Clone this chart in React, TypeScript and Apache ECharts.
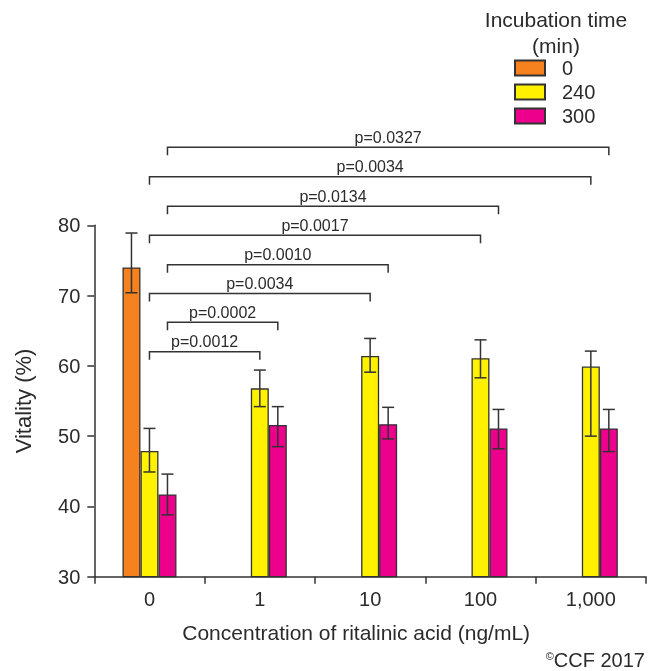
import React, { useEffect, useRef } from "react";
import * as echarts from "echarts";

const categories = ["0", "1", "10", "100", "1,000"];
const seriesNames = ["0", "240", "300"];
const vitality0 = [74.0, null, null, null, null];
const vitality240 = [47.9, 56.8, 61.4, 61.1, 59.9];
const vitality300 = [41.7, 51.6, 51.7, 51.1, 51.1];
const errLow0 = [70.4, null, null, null, null];
const errHigh0 = [78.9, null, null, null, null];
const errLow240 = [44.9, 54.2, 59.1, 58.3, 50.0];
const errHigh240 = [51.1, 59.4, 63.9, 63.7, 62.1];
const errLow300 = [38.8, 48.5, 49.6, 48.2, 47.8];
const errHigh300 = [44.6, 54.2, 54.1, 53.8, 53.8];

// significance brackets: from category, to category, series slot (1 = 240, 2 = 300), height, label
const bracketFrom = [0, 0, 0, 0, 0, 0, 0, 0];
const bracketTo = [1, 1, 2, 2, 3, 3, 4, 4];
const bracketSlot = [1, 2, 1, 2, 1, 2, 1, 2];
const bracketLevel = [62.0, 66.2, 70.3, 74.4, 78.6, 82.7, 86.9, 91.1];
const bracketP = ["p=0.0012", "p=0.0002", "p=0.0034", "p=0.0010", "p=0.0017", "p=0.0134", "p=0.0034", "p=0.0327"];

const yTicks = [30, 40, 50, 60, 70, 80];

const FONT = "'Liberation Sans', Arial, Helvetica, sans-serif";
const INK = "#2b2b2b";
const COLORS = ["#F5821F", "#FFF100", "#EC008C"];
const BAR_W = 18;
const CAP = 6;
const LEG = 8;

export default function App() {
  const ref = useRef<HTMLDivElement>(null);
  useEffect(() => {
    if (!ref.current) return;
    const chart = echarts.init(ref.current, null, { renderer: "svg" });
    const values = [vitality0, vitality240, vitality300];
    const lows = [errLow0, errLow240, errLow300];
    const highs = [errHigh0, errHigh240, errHigh300];

    const barSeries = seriesNames.map((name, i) => ({
      name,
      type: "bar",
      data: values[i],
      barWidth: BAR_W,
      barGap: "0%",
      itemStyle: { color: COLORS[i], borderColor: "#333", borderWidth: 1.3 },
      z: 2,
    }));

    const errSeries = seriesNames.map((name, i) => ({
      name: "err" + name,
      type: "custom",
      z: 3,
      clip: false,
      encode: { x: 0, y: [1, 2] },
      data: categories
        .map((_, c) => [c, lows[i][c], highs[i][c]])
        .filter((d) => d[1] != null),
      renderItem: (params: any, api: any) => {
        const c = api.value(0);
        const lo = api.coord([c, api.value(1)]);
        const hi = api.coord([c, api.value(2)]);
        const x = lo[0] + (i - 1) * BAR_W;
        const st = { stroke: "#333", lineWidth: 1.5 };
        return {
          type: "group",
          children: [
            { type: "line", shape: { x1: x, y1: lo[1], x2: x, y2: hi[1] }, style: st },
            { type: "line", shape: { x1: x - CAP, y1: lo[1], x2: x + CAP, y2: lo[1] }, style: st },
            { type: "line", shape: { x1: x - CAP, y1: hi[1], x2: x + CAP, y2: hi[1] }, style: st },
          ],
        };
      },
    }));

    const bracketSeries = {
      name: "brackets",
      type: "custom",
      z: 4,
      clip: false,
      encode: { x: 0, y: 2 },
      data: bracketP.map((_, k) => [bracketFrom[k], bracketTo[k], bracketLevel[k], bracketSlot[k]]),
      renderItem: (params: any, api: any) => {
        const k = params.dataIndex;
        const a = api.coord([api.value(0), api.value(2)]);
        const b = api.coord([api.value(1), api.value(2)]);
        const off = (api.value(3) - 1) * BAR_W;
        const x1 = a[0] + off;
        const x2 = b[0] + off;
        const y = a[1];
        return {
          type: "group",
          children: [
            {
              type: "polyline",
              shape: { points: [[x1, y + LEG], [x1, y], [x2, y], [x2, y + LEG]] },
              style: { stroke: "#333", lineWidth: 1.5, fill: null },
            },
            {
              type: "text",
              style: {
                text: bracketP[k],
                x: (x1 + x2) / 2,
                y: y - 10,
                align: "center",
                verticalAlign: "middle",
                fontSize: 16,
                fontFamily: FONT,
                fill: INK,
              },
            },
          ],
        };
      },
    };

    chart.setOption({
      animation: false,
      textStyle: { fontFamily: FONT, color: INK },
      title: {
        text: "Incubation time\n(min)",
        left: 556,
        top: 6,
        padding: 0,
        textAlign: "center",
        textStyle: { fontSize: 21, fontWeight: "normal", lineHeight: 26, color: INK, fontFamily: FONT },
      },
      legend: {
        data: seriesNames,
        orient: "vertical",
        left: 514,
        top: 58,
        padding: 0,
        icon: "rect",
        itemWidth: 30,
        itemHeight: 15,
        itemGap: 4,
        textStyle: { fontSize: 20, color: INK, fontFamily: FONT, lineHeight: 20, padding: [0, 0, 0, 12] },
      },
      grid: { left: 94.3, right: 10, top: 225.3, bottom: 94.3 },
      xAxis: {
        type: "category",
        data: categories,
        name: "Concentration of ritalinic acid (ng/mL)",
        nameLocation: "middle",
        nameGap: 45,
        nameTextStyle: { fontSize: 21, color: INK, fontFamily: FONT, padding: [0, 28, 0, 0] },
        axisLine: { lineStyle: { color: "#333", width: 1.5 } },
        axisTick: { show: true, length: 7, lineStyle: { color: "#333", width: 1.5 } },
        axisLabel: { fontSize: 20, color: INK, fontFamily: FONT, margin: 12 },
      },
      yAxis: {
        type: "value",
        min: yTicks[0],
        max: yTicks[yTicks.length - 1],
        interval: 10,
        name: "Vitality (%)",
        nameLocation: "middle",
        nameGap: 60,
        nameTextStyle: { fontSize: 22, color: INK, fontFamily: FONT },
        axisLine: { show: true, lineStyle: { color: "#333", width: 1.5 } },
        axisTick: { show: true, length: 7, lineStyle: { color: "#333", width: 1.5 } },
        axisLabel: { fontSize: 20, color: INK, fontFamily: FONT, margin: 14 },
        splitLine: { show: false },
      },
      graphic: [
        {
          type: "text",
          right: 11,
          top: 650,
          style: {
            text: "{s|©}{b|CCF 2017}",
            rich: {
              s: { fontSize: 11, fontFamily: FONT, fill: INK, verticalAlign: "top", padding: [0, 0, 8, 0] },
              b: { fontSize: 20, fontFamily: FONT, fill: INK },
            },
          },
        },
      ],
      series: [...barSeries, ...errSeries, bracketSeries],
    });
    return () => chart.dispose();
  }, []);
  return (
    <div
      ref={ref}
      style={{ position: "fixed", left: 0, top: 0, width: 656, height: 671 }}
    />
  );
}
